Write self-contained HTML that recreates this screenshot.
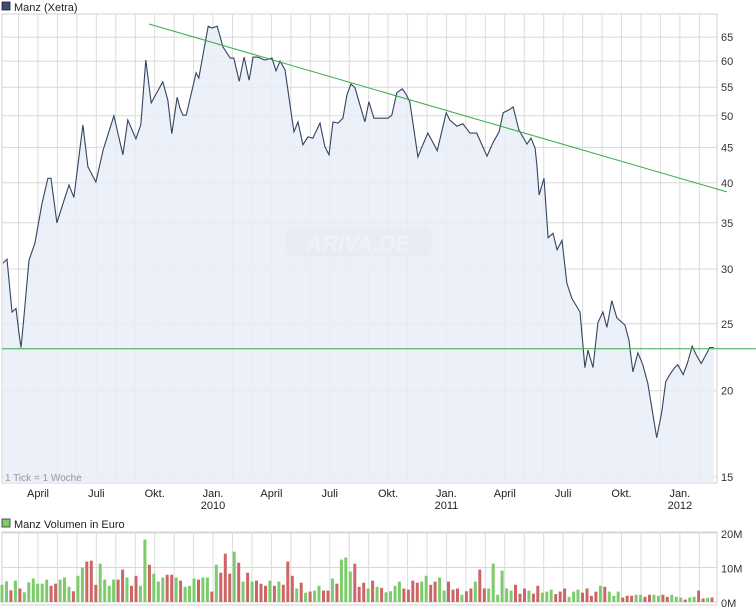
<!DOCTYPE html>
<html><head><meta charset="utf-8"><style>
html,body{margin:0;padding:0;background:#fff;}
svg{display:block;font-family:"Liberation Sans",sans-serif;}
</style></head><body>
<svg id="chart" width="756" height="615" viewBox="0 0 756 615">
<rect x="0" y="0" width="756" height="615" fill="#fff"/>
<g id="price-panel"></g>
<g id="vol-panel"></g>
</svg>
<script>
// ---- data ----
const priceWeeks=[0,0.9,2.0,2.9,3.6,4.0,4.5,5.8,7.1,8.7,10.0,10.7,12.0,13.4,14.7,15.8,17.8,18.9,20.7,22.3,24.7,26.7,27.8,29.6,30.7,31.8,33.0,35.6,36.7,37.6,38.8,39.4,40.1,40.8,43.0,43.6,45.7,46.5,47.7,49.0,50.6,51.4,52.6,53.7,54.8,55.7,56.8,58.3,59.9,60.8,61.7,62.8,64.4,64.8,65.7,66.8,67.9,69.0,70.6,71.7,72.6,73.5,74.6,75.7,76.6,77.5,78.4,79.5,80.6,81.5,82.6,85.7,86.6,87.7,88.9,89.7,90.6,92.4,93.5,94.6,95.5,96.7,98.7,99.5,101.1,102.4,104.0,105.5,107.8,109.1,110.5,111.4,112.7,113.6,114.9,116.7,117.6,118.5,118.9,119.4,120.5,121.4,122.5,123.4,124.5,125.6,126.7,128.5,129.6,130.3,131.4,132.5,133.6,134.5,135.6,136.7,138.5,139.4,140.3,141.4,142.5,143.6,145.6,146.7,147.6,148.5,149.6,150.3,151.5,152.4,153.5,154.3,155.5,156.8,157.4,158.3];
const prices=[30.6,31.0,26.0,26.3,24.1,23.1,24.9,30.9,32.7,37.4,40.6,40.6,35.0,37.4,39.7,38.1,48.5,42.2,40.1,44.6,50.0,43.9,49.3,46.3,48.5,60.2,52.2,56.0,52.7,47.1,53.2,51.3,50.1,50.1,57.7,56.7,67.4,67.0,67.4,62.9,60.6,60.6,56.1,60.8,56.3,60.8,60.8,60.2,60.6,58.1,60.0,58.3,49.3,47.4,49.0,45.4,46.6,46.4,48.8,45.1,43.9,49.0,48.8,49.6,53.6,55.6,54.9,51.8,49.0,52.4,49.6,49.6,50.1,54.0,54.7,53.8,52.4,43.6,45.4,47.2,46.1,44.5,50.5,49.3,48.3,48.7,47.2,47.2,43.7,45.7,47.4,50.5,51.0,51.5,47.7,45.5,46.4,44.9,42.4,38.4,40.6,33.3,33.8,32.0,33.0,28.6,27.2,26.0,21.6,22.9,21.6,25.1,26.0,24.7,27.0,25.5,24.9,23.7,21.3,22.7,21.8,20.5,17.1,18.6,20.6,21.1,21.6,21.8,21.1,21.9,23.2,22.6,21.9,22.7,23.1,23.1];
const priceTicks=[15,20,25,30,35,40,45,50,55,60,65];
const monthLabels=["April","Juli","Okt.","Jan.","April","Juli","Okt.","Jan.","April","Juli","Okt.","Jan."];
const monthIdx=[0,3,6,9,12,15,18,21,24,27,30,33];
const yearLabels=["2010","2011","2012"];
const yearMonthIdx=[9,21,33];
const trendWeeks=[32.5,161.2];
const trendPrices=[67.9,38.8];
const supportWeeks=[-0.2,167.7];
const supportPrices=[23.0,23.0];
const volumes=[5.0,6.0,3.4,6.2,3.9,2.8,5.7,6.8,5.3,5.3,6.5,4.7,5.3,6.5,7.1,4.4,3.1,7.6,10.0,11.7,12.0,5.0,11.1,6.5,4.7,6.5,6.5,9.4,7.1,4.7,7.6,4.7,18.1,10.8,8.2,5.9,7.1,7.9,7.9,7.1,6.2,4.4,4.7,6.8,6.5,7.1,7.1,3.0,10.8,8.5,14.0,8.2,14.6,11.4,5.9,8.5,5.9,6.2,5.3,4.7,6.2,4.7,5.9,5.0,11.7,7.6,3.9,5.6,2.7,3.0,3.3,4.7,3.3,3.3,6.8,5.3,12.3,12.9,8.8,11.1,4.4,5.6,3.9,6.2,4.4,
4.1,2.8,3.1,4.7,5.9,3.9,3.6,6.2,5.6,5.9,7.6,5.0,5.9,7.1,3.3,5.9,3.6,3.9,2.1,3.1,3.9,5.9,9.4,3.9,3.9,11.1,2.1,9.1,3.9,3.3,5.0,2.4,3.9,3.3,2.4,4.7,2.7,3.0,3.6,2.3,3.0,3.9,1.5,3.0,3.6,2.7,3.9,1.8,3.0,4.7,4.4,3.0,1.8,3.0,1.3,1.8,1.8,2.1,2.1,1.5,2.1,2.1,1.8,2.1,1.5,2.1,1.5,1.3,0.7,1.3,1.5,3.3,1.0,1.2,1.3];
const volUp=[1,1,0,1,0,1,1,1,1,1,1,0,0,1,1,1,0,1,1,0,0,0,1,1,1,1,0,0,1,0,0,1,1,0,1,1,1,0,0,1,0,1,1,1,0,1,1,0,1,0,0,0,1,0,1,0,1,0,0,0,1,0,1,0,0,0,1,0,1,0,1,1,0,0,1,0,1,1,1,0,0,0,1,0,1,
0,1,1,1,1,0,0,0,0,1,1,0,0,1,1,0,0,0,1,0,0,1,0,0,1,1,1,1,1,1,0,0,0,1,0,0,1,1,1,0,0,0,1,1,1,0,0,0,0,1,0,1,1,1,0,0,0,1,1,0,0,1,1,0,0,1,1,1,0,1,1,0,0,1];
const volTicks=[0,10,20];
const volTickLabels=["0M","10M","20M"];

// ---- scales ----
const NS="http://www.w3.org/2000/svg";
const PL=2,PR=717,PT=14,PB=483;
const xW=w=>3+w*4.49;
const yP=p=>477-300*Math.log(p/15);
const xM=m=>38+m*19.45;
const VB=602,VT=532;
const yV=v=>VB-v*3.45;
const xVbar=i=>2+i*(710/(volumes.length-1));
function mk(tag,attrs,parent){const e=document.createElementNS(NS,tag);for(const k in attrs)e.setAttribute(k,attrs[k]);parent.appendChild(e);return e;}
const pp=document.getElementById('price-panel');
const vp=document.getElementById('vol-panel');

let e;
e=mk('rect',{x:PL,y:PT,width:PR-PL,height:PB-PT,fill:'#fff',stroke:'#d0d0d0'},pp);


for(let m=-1;m<=34;m++){const x=xM(m);if(x<=PL||x>=PR)continue;
 e=mk('line',{x1:x,y1:PT,x2:x,y2:PB,stroke:'#dcdcdc','stroke-width':1},pp);
 
 }
priceTicks.forEach(t=>{const y=yP(t);
 e=mk('line',{x1:PL,y1:y,x2:PR,y2:y,stroke:'#d8d8d8','stroke-width':1},pp);
 
 
 e=mk('text',{x:721,y:y+4,'font-size':11,fill:'#333'},pp);e.textContent=String(t);
 
 });
let d='';priceWeeks.forEach((w,i)=>{d+=(i?'L':'M')+xW(w).toFixed(1)+' '+yP(prices[i]).toFixed(1);});
const area=d+'L'+xW(priceWeeks[priceWeeks.length-1]).toFixed(1)+' '+PB+'L'+xW(priceWeeks[0]).toFixed(1)+' '+PB+'Z';
e=mk('path',{d:area,fill:'#e9edf8','fill-opacity':0.85},pp);


e=mk('rect',{x:285,y:229,width:147,height:28,rx:8,fill:'#e6e9f2','fill-opacity':0.6},pp);


e=mk('text',{x:358,y:251,'font-size':22,'font-style':'italic','font-weight':'bold','text-anchor':'middle',fill:'#eef1f8'},pp);e.textContent='ARIVA.DE';


e=mk('path',{d:d,fill:'none',stroke:'#34445f','stroke-width':1.1},pp);


e=mk('line',{x1:xW(trendWeeks[0]),y1:yP(trendPrices[0]),x2:xW(trendWeeks[1]),y2:yP(trendPrices[1]),stroke:'#3aaa4a','stroke-width':1},pp);


e=mk('line',{x1:xW(supportWeeks[0]),y1:yP(supportPrices[0]),x2:xW(supportWeeks[1]),y2:yP(supportPrices[1]),stroke:'#3aaa4a','stroke-width':1},pp);


monthLabels.forEach((l,i)=>{e=mk('text',{x:xM(monthIdx[i]),y:497,'font-size':11,'text-anchor':'middle',fill:'#222'},pp);e.textContent=l;
 
 });
yearLabels.forEach((l,i)=>{e=mk('text',{x:xM(yearMonthIdx[i]),y:509,'font-size':11,'text-anchor':'middle',fill:'#222'},pp);e.textContent=l;
 
 });
e=mk('text',{x:5,y:481,'font-size':10,fill:'#999'},pp);e.textContent='1 Tick = 1 Woche';


e=mk('rect',{x:2,y:2,width:8,height:8,fill:'#3a4a7a',stroke:'#222','stroke-width':0.8},pp);


e=mk('text',{x:14,y:11,'font-size':11,fill:'#222'},pp);e.textContent='Manz (Xetra)';



e=mk('rect',{x:PL,y:VT,width:PR-PL,height:VB+3-VT,fill:'#fff',stroke:'#d0d0d0'},vp);


for(let m=-1;m<=34;m++){const x=xM(m);if(x<=PL||x>=PR)continue;
 e=mk('line',{x1:x,y1:VT,x2:x,y2:VB,stroke:'#dcdcdc','stroke-width':1},vp);
 
 }
volTicks.forEach((t,i)=>{const y=yV(t);
 e=mk('line',{x1:PL,y1:y,x2:PR,y2:y,stroke:'#d8d8d8','stroke-width':1},vp);
 
 
 e=mk('text',{x:721,y:y+5,'font-size':11,fill:'#333'},vp);e.textContent=volTickLabels[i];
 
 });
volumes.forEach((v,i)=>{const x=xVbar(i);
 e=mk('rect',{x:(x-1.5).toFixed(1),y:yV(v).toFixed(1),width:3,height:(VB-yV(v)).toFixed(1),fill:volUp[i]?'#7ccc6c':'#cc6666'},vp);
 
 });
e=mk('rect',{x:2,y:519,width:8,height:8,fill:'#7ccc6c',stroke:'#333','stroke-width':0.8},vp);


e=mk('text',{x:14,y:528,'font-size':11,fill:'#222'},vp);e.textContent='Manz Volumen in Euro';


</script>
</body></html>
